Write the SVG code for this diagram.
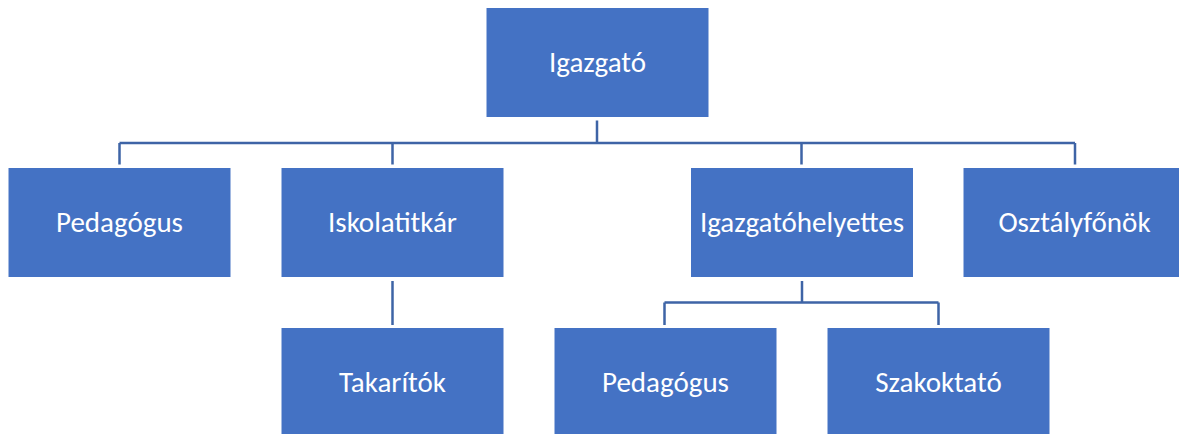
<svg xmlns="http://www.w3.org/2000/svg" width="1179" height="434" viewBox="0 0 1179 434">
<style>
.box{fill:#4472C4;stroke:#ffffff;stroke-width:1}
.lbl{fill:#ffffff;font-family:Calibri,Carlito,"Liberation Sans",Arial,sans-serif;font-size:29px;text-anchor:middle}
.con{fill:none;stroke:#3E64A6;stroke-width:2.5}
</style>
<rect width="1179" height="434" fill="#ffffff"/>
<g id="connectors">
<path class="con" d="M597,120.5 V143 M119.5,143 H1075 M119.5,143 V164.5 M392.5,143 V164.5 M801.5,143 V164.5 M1075,143 V164.5"/>
<path class="con" d="M392.5,281 V325"/>
<path class="con" d="M802,281 V302.5 M664.5,302.5 H938.5 M664.5,302.5 V325 M938.5,302.5 V325"/>
</g>
<g id="igazgato"><rect class="box" x="486" y="7.5" width="223" height="110"/><text class="lbl" x="597.5" y="71.5">Igazgató</text></g>
<g id="pedagogus1"><rect class="box" x="8" y="167.5" width="223" height="110"/><text class="lbl" x="119.5" y="231.5">Pedagógus</text></g>
<g id="iskolatitkar"><rect class="box" x="281" y="167.5" width="223" height="110"/><text class="lbl" x="392.5" y="231.5">Iskolatitkár</text></g>
<g id="igazgatohelyettes"><rect class="box" x="690.5" y="167.5" width="223" height="110"/><text class="lbl" x="802" y="231.5">Igazgatóhelyettes</text></g>
<g id="osztalyfonok"><rect class="box" x="963" y="167.5" width="223" height="110"/><text class="lbl" x="1074.5" y="231.5">Osztályfőnök</text></g>
<g id="takaritok"><rect class="box" x="281" y="327.5" width="223" height="110"/><text class="lbl" x="392.5" y="391.5">Takarítók</text></g>
<g id="pedagogus2"><rect class="box" x="554" y="327.5" width="223" height="110"/><text class="lbl" x="665.5" y="391.5">Pedagógus</text></g>
<g id="szakoktato"><rect class="box" x="827" y="327.5" width="223" height="110"/><text class="lbl" x="938.5" y="391.5">Szakoktató</text></g>
</svg>
